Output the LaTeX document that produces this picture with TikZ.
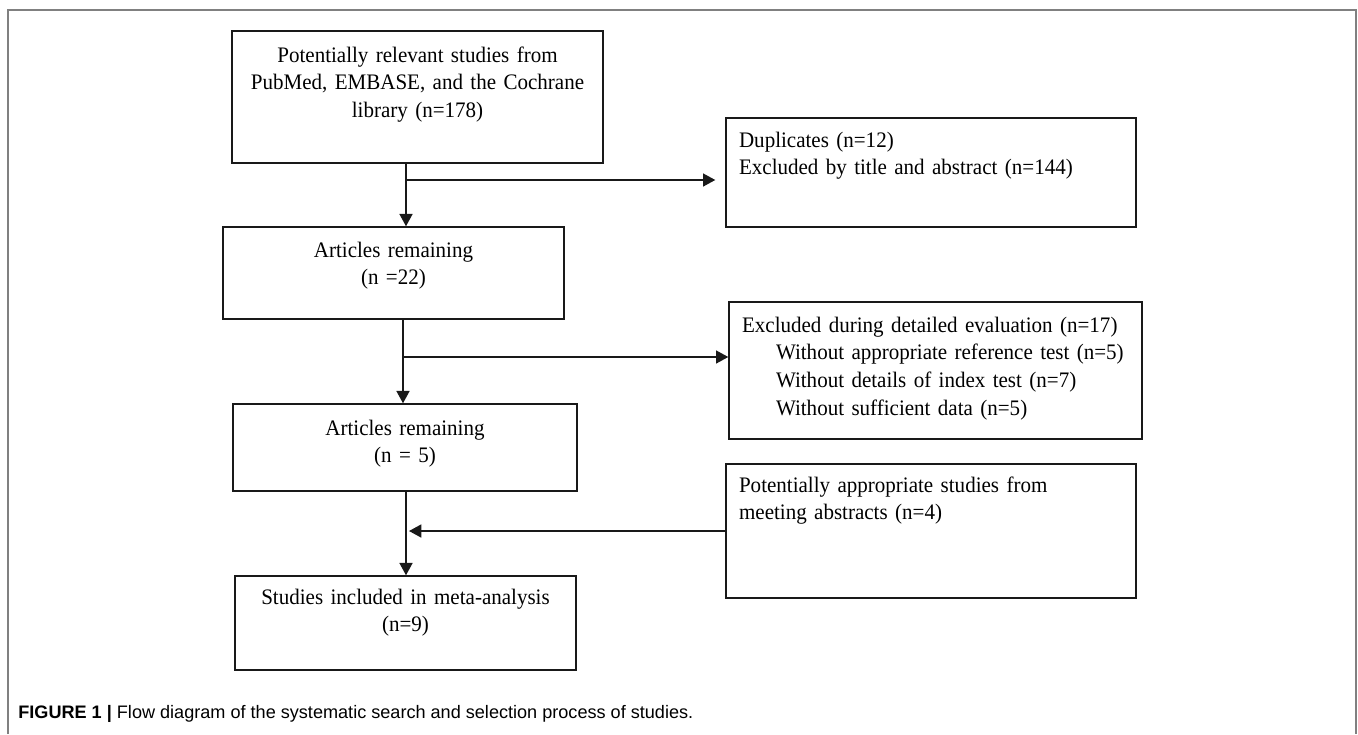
\documentclass[tikz,border=0pt]{standalone}
\usepackage{fontspec}
\setmainfont{Liberation Serif}[FakeStretch=0.95]
\newfontfamily\capfont{Liberation Sans}
\usepackage{tikz}
\usetikzlibrary{arrows.meta,calc}
\definecolor{framegray}{RGB}{128,128,128}

\tikzset{
  >={Triangle[length=7pt,width=7.4pt]},
  flowbox/.style={draw=black!90, line width=0.85pt, rectangle, inner xsep=0.26cm, inner ysep=0pt,
    font=\fontsize{12.6}{15.9}\selectfont},
  flowline/.style={line width=0.85pt, black!90}
}

\begin{document}
\begin{tikzpicture}[x=0.02cm, y=-0.02cm]
    \useasboundingbox (0,0) rectangle (1358,734);
    % outer frame
    \draw[framegray, line width=1.1pt] (8,734) -- (8,10) -- (1356,10) -- (1356,734);

    % main column
    \node[flowbox, align=center, text width=6.90cm, text height=0.62cm, text depth=2.02cm] (src) at (417.5,97)
        {Potentially relevant studies from\\PubMed, EMBASE, and the Cochrane\\library (n=178)};
    \node[flowbox, align=center, text width=6.30cm, text height=0.60cm, text depth=1.24cm] (rem1) at (393.5,273)
        {Articles remaining\\(n =22)};
    \node[flowbox, align=center, text width=6.36cm, text height=0.62cm, text depth=1.12cm] (rem2) at (405,447.5)
        {Articles remaining\\(n = 5)};
    \node[flowbox, align=center, text width=6.30cm, text height=0.56cm, text depth=1.32cm] (incl) at (405.5,623)
        {Studies included in meta-analysis\\(n=9)};

    % side boxes
    \node[flowbox, align=left, text width=7.68cm, text height=0.58cm, text depth=1.60cm] (dup) at (931,172.5)
        {Duplicates (n=12)\\Excluded by title and abstract (n=144)};
    \node[flowbox, align=left, text width=7.74cm, text height=0.60cm, text depth=2.14cm] (excl) at (935.5,370.5)
        {Excluded during detailed evaluation (n=17)\\
         \hspace*{0.68cm}Without appropriate reference test (n=5)\\
         \hspace*{0.68cm}Without details of index test (n=7)\\
         \hspace*{0.68cm}Without sufficient data (n=5)};
    \node[flowbox, align=left, text width=7.68cm, text height=0.56cm, text depth=2.12cm] (app) at (931,531)
        {Potentially appropriate studies from\\meeting abstracts (n=4)};

    % connectors
    \coordinate (k1) at (406,180);
    \coordinate (k2) at (403,357);
    \coordinate (k3) at (406,531);
    \draw[flowline, ->] (src.south -| k1) -- (rem1.north -| k1);
    \draw[flowline, ->, shorten >=0.2cm] (k1) -- (k1 -| dup.west);
    \draw[flowline, ->] (rem1.south -| k2) -- (rem2.north -| k2);
    \draw[flowline, ->] (k2) -- (k2 -| excl.west);
    \draw[flowline, ->] (rem2.south -| k3) -- (incl.north -| k3);
    \draw[flowline, ->, shorten >=0.06cm] (app.west) -- (k3);

    % caption
    \node[anchor=base west, inner sep=0pt, font=\capfont\fontsize{10.3}{12}\selectfont] (caption) at (18,718)
        {\textbf{FIGURE 1 |} Flow diagram of the systematic search and selection process of studies.};
\end{tikzpicture}
\end{document}
